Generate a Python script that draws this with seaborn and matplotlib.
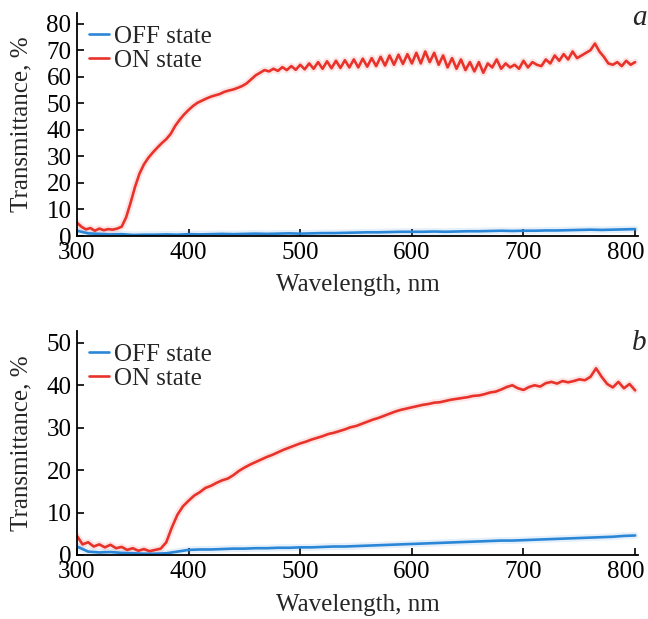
import numpy as np
import pandas as pd
import matplotlib
matplotlib.use("Agg")
import matplotlib.pyplot as plt
import matplotlib.transforms as mtrans
import seaborn as sns

# --- panel a: transmittance, % ---
wl_a_on = np.arange(300, 801, 4)
t_a_on = [
    5.0, 3.5, 2.5, 3.0, 2.0, 2.8, 2.2, 2.6, 2.4, 2.8,
    3.5, 7.0, 12.5, 18.5, 23.5, 27.0, 29.5, 31.5, 33.3, 35.0,
    36.5, 38.5, 41.5, 43.8, 45.8, 47.5, 49.0, 50.2, 51.0, 51.8,
    52.5, 53.0, 53.5, 54.3, 54.8, 55.2, 55.8, 56.5, 57.5, 59.0,
    60.5, 61.5, 62.5, 62.0, 63.0, 62.2, 63.6, 62.5, 64.0, 62.6,
    64.5, 62.8, 65.0, 63.0, 65.5, 63.0, 65.8, 63.2, 66.0, 63.3,
    66.2, 63.5, 66.5, 63.5, 66.8, 63.8, 67.0, 64.0, 67.5, 64.2,
    68.0, 64.5, 68.3, 64.8, 68.5, 65.0, 69.0, 65.0, 69.5, 65.5,
    69.0, 64.5, 68.0, 63.5, 67.0, 63.0, 66.5, 62.5, 65.5, 62.0,
    65.5, 61.5, 65.0, 63.5, 66.5, 63.0, 65.0, 63.5, 64.5, 63.0,
    66.0, 63.5, 65.5, 64.5, 64.0, 66.5, 65.0, 68.0, 66.0, 68.5,
    66.5, 69.5, 67.0, 68.0, 69.0, 70.0, 72.5, 69.5, 67.5, 65.0,
    64.5, 65.5, 64.0, 66.0, 64.5,
    65.5,
]
wl_a_off = np.arange(300, 801, 10)
t_a_off = [
    2.0, 1.0, 0.8, 0.6, 0.7, 0.4, 0.5, 0.5, 0.6, 0.5,
    0.7, 0.6, 0.7, 0.8, 0.7, 0.8, 0.9, 0.8, 0.9, 1.0,
    0.9, 1.0, 1.1, 1.1, 1.2, 1.3, 1.4, 1.4, 1.5, 1.6,
    1.6, 1.6, 1.7, 1.6, 1.7, 1.8, 1.8, 1.9, 2.0, 1.9,
    2.0, 2.0, 2.1, 2.1, 2.2, 2.3, 2.4, 2.3, 2.4, 2.5,
    2.6,
]

# --- panel b ---
wl_b_on = np.arange(300, 801, 5)
t_b_on = [
    4.5, 2.5, 3.0, 2.0, 2.5, 1.8, 2.4, 1.6, 1.9, 1.2,
    1.6, 1.0, 1.4, 0.9, 1.2, 1.5, 3.0, 6.5, 9.5, 11.5,
    12.8, 14.0, 14.8, 15.8, 16.3, 17.0, 17.6, 18.0, 18.8, 19.8,
    20.6, 21.3, 21.9, 22.5, 23.1, 23.6, 24.2, 24.8, 25.3, 25.8,
    26.3, 26.7, 27.2, 27.6, 28.0, 28.5, 28.8, 29.2, 29.6, 30.1,
    30.4, 30.9, 31.4, 31.9, 32.3, 32.8, 33.3, 33.8, 34.2, 34.5,
    34.8, 35.1, 35.4, 35.6, 35.9, 36.0, 36.3, 36.6, 36.8, 37.0,
    37.2, 37.5, 37.6, 37.9, 38.3, 38.5, 39.0, 39.6, 40.0, 39.3,
    38.9, 39.6, 40.0, 39.7, 40.5, 40.8, 40.4, 41.0, 40.7, 41.0,
    41.4, 41.2, 42.0, 44.0, 42.0, 40.3, 39.5, 40.8, 39.3, 40.3,
    38.8,
]
wl_b_off = np.arange(300, 801, 10)
t_b_off = [
    2.0, 0.8, 0.6, 0.7, 0.5, 0.4, 0.3, 0.3, 0.4, 0.8,
    1.2, 1.3, 1.3, 1.4, 1.5, 1.5, 1.6, 1.6, 1.7, 1.7,
    1.8, 1.8, 1.9, 2.0, 2.0, 2.1, 2.2, 2.3, 2.4, 2.5,
    2.6, 2.7, 2.8, 2.9, 3.0, 3.1, 3.2, 3.3, 3.4, 3.4,
    3.5, 3.6, 3.7, 3.8, 3.9, 4.0, 4.1, 4.2, 4.3, 4.5,
    4.6,
]

states = ["OFF state", "ON state"]
colors = {"OFF state": "#2a86d6", "ON state": "#e8322a"}


def make_df(wl_off, t_off, wl_on, t_on):
    off = pd.DataFrame({"wl": wl_off, "T": t_off, "state": states[0]})
    on = pd.DataFrame({"wl": wl_on, "T": t_on, "state": states[1]})
    return pd.concat([off, on], ignore_index=True)


sns.set_theme(style="ticks")
plt.rcParams["font.family"] = ["Liberation Serif", "DejaVu Serif"]

fig = plt.figure(figsize=(6.48, 6.19), dpi=100)
ax_a = fig.add_axes([0.1188, 0.6187, 0.8665, 0.3603])
ax_b = fig.add_axes([0.1188, 0.1034, 0.8665, 0.3619])

panels = [
    (ax_a, make_df(wl_a_off, t_a_off, wl_a_on, t_a_on), (0, 84), range(0, 81, 10), "a", 0.946, -0.172),
    (ax_b, make_df(wl_b_off, t_b_off, wl_b_on, t_b_on), (0, 52.8), range(0, 51, 10), "b", 0.915, -0.175),
]

for ax, df, ylim, yticks, tag, tag_y, xlab_y in panels:
    # soft halo under the traces, like the scanned original
    sns.lineplot(data=df, x="wl", y="T", hue="state", hue_order=states,
                 palette=colors, estimator=None, sort=False, linewidth=5,
                 alpha=0.12, legend=False, ax=ax)
    sns.lineplot(data=df, x="wl", y="T", hue="state", hue_order=states,
                 palette=colors, estimator=None, sort=False, linewidth=1.9, ax=ax)
    ax.set_xlim(300, 803)
    ax.set_ylim(*ylim)
    ax.set_xticks([300, 400, 500, 600, 700, 800])
    ax.set_yticks(list(yticks))
    sns.despine(ax=ax)
    for sp in ("left", "bottom"):
        ax.spines[sp].set_linewidth(1.3)
        ax.spines[sp].set_color("black")
    ax.tick_params(direction="in", length=5, width=1.2, labelsize=18,
                   colors="black", pad=4)
    # last x label sits slightly left of its tick in the original
    last = ax.get_xticklabels()[-1]
    last.set_transform(last.get_transform() +
                       mtrans.ScaledTranslation(-7 / 72, 0, fig.dpi_scale_trans))
    ax.set_xlabel("Wavelength, nm", fontsize=18)
    ax.set_ylabel("Transmittance, %", fontsize=18)
    ax.xaxis.set_label_coords(0.5, xlab_y)
    ax.yaxis.set_label_coords(-0.08, 0.5)
    ax.legend(loc="upper left", frameon=False, fontsize=18, handlelength=0.8,
              handletextpad=0.2, labelspacing=0.05, borderpad=0.2,
              borderaxespad=0.3)
    ax.text(1.015, tag_y, tag, transform=ax.transAxes, ha="right",
            va="baseline", fontsize=21, style="italic")

fig.savefig("out.png", dpi=100)
